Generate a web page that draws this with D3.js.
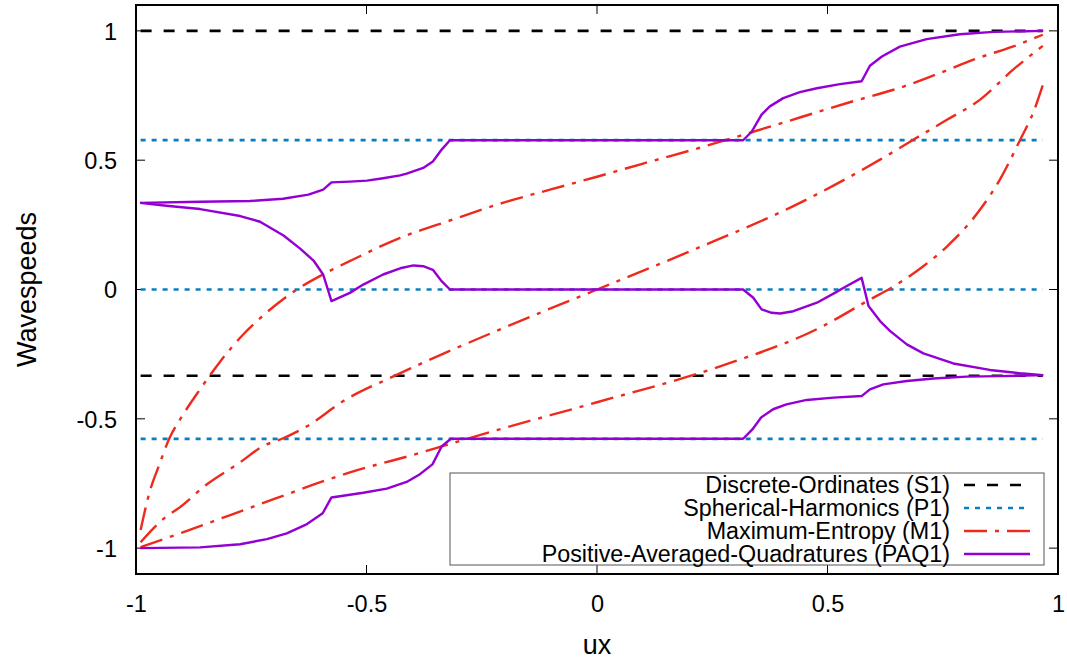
<!DOCTYPE html>
<html>
<head>
<meta charset="utf-8">
<script src="https://cdn.jsdelivr.net/npm/d3@7/dist/d3.min.js"></script>
<style>
  html, body { margin: 0; padding: 0; background: #fff; }
  svg { display: block; }
  text { font-family: "Liberation Sans", Arial, sans-serif; fill: #000; }
</style>
</head>
<body>
<svg id="chart" width="1067" height="661"></svg>
<script>
// ---- data ----------------------------------------------------------
const xTicks = [-1, -0.5, 0, 0.5, 1];
const yTicks = [-1, -0.5, 0, 0.5, 1];
const xTickLabels = ["-1", "-0.5", "0", "0.5", "1"];
const yTickLabels = ["-1", "-0.5", "0", "0.5", "1"];
const uxRange = [-0.99, 0.967];

// Discrete-Ordinates (S1) wavespeeds (constant)
const s1Speeds = [1, -0.3333];
// Spherical-Harmonics (P1) wavespeeds (constant)
const p1Speeds = [0.5774, 0, -0.5774];

// Maximum-Entropy (M1): three wavespeed branches, [ux, speed]
const m1Upper = [
  [-0.99, -0.93], [-0.97, -0.78], [-0.95, -0.68], [-0.928, -0.577], [-0.90, -0.49],
  [-0.861, -0.386], [-0.818, -0.28], [-0.768, -0.175], [-0.716, -0.088], [-0.651, 0],
  [-0.586, 0.066], [-0.529, 0.116], [-0.427, 0.2], [-0.325, 0.263], [-0.21, 0.332],
  [-0.1, 0.387], [0, 0.436], [0.1, 0.487], [0.223, 0.548], [0.332, 0.606],
  [0.44, 0.665], [0.55, 0.725], [0.657, 0.78], [0.722, 0.822], [0.83, 0.897],
  [0.90, 0.938], [0.967, 0.985]
];
const m1Middle = [
  [-0.99, -0.977], [-0.933, -0.876], [-0.911, -0.85], [-0.846, -0.753], [-0.774, -0.668],
  [-0.725, -0.606], [-0.683, -0.577], [-0.629, -0.529], [-0.551, -0.432], [-0.438, -0.333],
  [-0.21, -0.154], [0, 0], [0.21, 0.154], [0.438, 0.333], [0.614, 0.502],
  [0.686, 0.579], [0.759, 0.656], [0.831, 0.734], [0.902, 0.849], [0.967, 0.942]
];
const m1Lower = [
  [-0.99, -0.996], [-0.9, -0.94], [-0.8, -0.875], [-0.7, -0.81], [-0.6, -0.745],
  [-0.536, -0.707], [-0.4, -0.64], [-0.308, -0.591], [-0.2, -0.535], [0, -0.436],
  [0.267, -0.297], [0.484, -0.147], [0.592, -0.039], [0.636, 0.004], [0.707, 0.089],
  [0.759, 0.166], [0.831, 0.309], [0.874, 0.425], [0.918, 0.579], [0.946, 0.683],
  [0.967, 0.79]
];

// Positive-Averaged-Quadratures (PAQ1): three wavespeed branches, [ux, speed]
const paqUpper = [
  [-0.991, 0.335], [-0.861, 0.339], [-0.753, 0.342], [-0.681, 0.351], [-0.626, 0.367],
  [-0.594, 0.386], [-0.576, 0.414], [-0.536, 0.417], [-0.499, 0.421], [-0.464, 0.43],
  [-0.427, 0.441], [-0.413, 0.448], [-0.377, 0.47], [-0.356, 0.495], [-0.337, 0.541],
  [-0.319, 0.577], [0.317, 0.577], [0.336, 0.611], [0.357, 0.676], [0.375, 0.708],
  [0.404, 0.74], [0.44, 0.763], [0.477, 0.778], [0.527, 0.794], [0.574, 0.805],
  [0.592, 0.865], [0.618, 0.901], [0.657, 0.939], [0.715, 0.968], [0.787, 0.987],
  [0.86, 0.996], [0.968, 1.0]
];
const paqMiddle = [
  [-0.991, 0.335], [-0.934, 0.324], [-0.861, 0.311], [-0.774, 0.284], [-0.731, 0.262],
  [-0.680, 0.209], [-0.644, 0.158], [-0.615, 0.112], [-0.594, 0.058], [-0.576, -0.045],
  [-0.536, -0.013], [-0.507, 0.019], [-0.464, 0.058], [-0.427, 0.082], [-0.398, 0.093],
  [-0.377, 0.09], [-0.356, 0.076], [-0.337, 0.032], [-0.319, 0], [0.317, 0],
  [0.339, -0.032], [0.357, -0.077], [0.379, -0.09], [0.397, -0.093], [0.426, -0.084],
  [0.477, -0.051], [0.516, -0.013], [0.534, 0.006], [0.574, 0.045], [0.589, -0.064],
  [0.614, -0.122], [0.636, -0.161], [0.672, -0.212], [0.708, -0.247], [0.773, -0.286],
  [0.852, -0.311], [0.918, -0.324], [0.968, -0.331]
];
const paqLower = [
  [-0.991, -1.0], [-0.861, -0.997], [-0.774, -0.985], [-0.716, -0.965], [-0.673, -0.943],
  [-0.629, -0.907], [-0.595, -0.865], [-0.576, -0.804], [-0.507, -0.786], [-0.456, -0.77],
  [-0.413, -0.744], [-0.384, -0.714], [-0.357, -0.676], [-0.337, -0.607], [-0.317, -0.577],
  [0.317, -0.577], [0.337, -0.541], [0.356, -0.495], [0.382, -0.463], [0.411, -0.444],
  [0.455, -0.427], [0.513, -0.418], [0.574, -0.412], [0.592, -0.386], [0.621, -0.367],
  [0.672, -0.354], [0.73, -0.344], [0.802, -0.337], [0.874, -0.335], [0.968, -0.331]
];

const legendLabels = [
  "Discrete-Ordinates (S1)",
  "Spherical-Harmonics (P1)",
  "Maximum-Entropy (M1)",
  "Positive-Averaged-Quadratures (PAQ1)"
];

// ---- styles --------------------------------------------------------
const styles = {
  s1:  { color: "#000000", dash: "11,12",       width: 2.6 },
  p1:  { color: "#0a7fc0", dash: "5,6",         width: 2.6 },
  m1:  { color: "#ee2a1c", dash: "23,8,4,8",    width: 2.4 },
  paq: { color: "#9400d3", dash: null,          width: 2.4 }
};

// ---- layout --------------------------------------------------------
const svg = d3.select("#chart");
const plot = { left: 136, right: 1058, top: 5, bottom: 574 };

const x = d3.scaleLinear().domain([-1, 1]).range([plot.left, plot.right]);
const y = d3.scaleLinear().domain([-1.1, 1.1]).range([plot.bottom, plot.top]);

svg.append("defs").append("clipPath").attr("id", "plot-clip")
  .append("rect")
  .attr("x", plot.left).attr("y", plot.top)
  .attr("width", plot.right - plot.left).attr("height", plot.bottom - plot.top);

const tickFont = 23.5;
const legendFont = 23.3;
const titleFont = 27;
const tickLen = 9;

// axes with inward ticks, mirrored on top and right
const axBottom = d3.axisBottom(x).tickValues(xTicks).tickSize(0).tickFormat((d, i) => xTickLabels[i]);
const axLeft = d3.axisLeft(y).tickValues(yTicks).tickSize(0).tickFormat((d, i) => yTickLabels[i]);

const gx = svg.append("g").attr("transform", `translate(0,${plot.bottom})`).call(axBottom);
gx.select(".domain").remove();
gx.selectAll("text").attr("font-size", tickFont).attr("dy", null).attr("y", 38)
  .attr("font-family", "Liberation Sans, Arial, sans-serif");

const gy = svg.append("g").attr("transform", `translate(${plot.left},0)`).call(axLeft);
gy.select(".domain").remove();
gy.selectAll("text").attr("font-size", tickFont).attr("dy", "0.36em").attr("x", -19)
  .attr("font-family", "Liberation Sans, Arial, sans-serif");

const ticks = svg.append("g").attr("stroke", "#000").attr("stroke-width", 1);
xTicks.forEach(v => {
  ticks.append("line").attr("x1", x(v)).attr("x2", x(v)).attr("y1", plot.bottom).attr("y2", plot.bottom - tickLen);
  ticks.append("line").attr("x1", x(v)).attr("x2", x(v)).attr("y1", plot.top).attr("y2", plot.top + tickLen);
});
yTicks.forEach(v => {
  ticks.append("line").attr("x1", plot.left).attr("x2", plot.left + tickLen).attr("y1", y(v)).attr("y2", y(v));
  ticks.append("line").attr("x1", plot.right).attr("x2", plot.right - tickLen).attr("y1", y(v)).attr("y2", y(v));
});

// ---- series --------------------------------------------------------
const marks = svg.append("g").attr("clip-path", "url(#plot-clip)");

function hline(v, st) {
  marks.append("line")
    .attr("x1", x(uxRange[0])).attr("x2", x(uxRange[1]))
    .attr("y1", y(v)).attr("y2", y(v))
    .attr("stroke", st.color).attr("stroke-width", st.width)
    .attr("stroke-dasharray", st.dash);
}
s1Speeds.forEach(v => hline(v, styles.s1));
p1Speeds.forEach(v => hline(v, styles.p1));

const smooth = d3.line().x(d => x(d[0])).y(d => y(d[1])).curve(d3.curveMonotoneX);
const straight = d3.line().x(d => x(d[0])).y(d => y(d[1]));

[m1Upper, m1Middle, m1Lower].forEach(series => {
  marks.append("path").attr("d", smooth(series))
    .attr("fill", "none").attr("stroke", styles.m1.color)
    .attr("stroke-width", styles.m1.width).attr("stroke-dasharray", styles.m1.dash);
});
[paqUpper, paqMiddle, paqLower].forEach(series => {
  marks.append("path").attr("d", straight(series))
    .attr("fill", "none").attr("stroke", styles.paq.color)
    .attr("stroke-width", styles.paq.width).attr("stroke-linejoin", "round");
});

// ---- legend --------------------------------------------------------
const legend = svg.append("g");
legend.append("rect")
  .attr("x", 450).attr("y", 473).attr("width", 594).attr("height", 92)
  .attr("fill", "#fff").attr("stroke", "#555").attr("stroke-width", 1);
const legendStyles = [styles.s1, styles.p1, styles.m1, styles.paq];
legendLabels.forEach((lab, i) => {
  const cy = 485 + i * 23;
  legend.append("text").attr("x", 950).attr("y", cy).attr("dy", "0.36em")
    .attr("text-anchor", "end").attr("font-size", legendFont).text(lab);
  const st = legendStyles[i];
  legend.append("line").attr("x1", 964).attr("x2", 1030).attr("y1", cy).attr("y2", cy)
    .attr("stroke", st.color).attr("stroke-width", st.width)
    .attr("stroke-dasharray", st.dash);
});

// ---- frame and axis titles ----------------------------------------
svg.append("rect")
  .attr("x", plot.left).attr("y", plot.top)
  .attr("width", plot.right - plot.left).attr("height", plot.bottom - plot.top)
  .attr("fill", "none").attr("stroke", "#000").attr("stroke-width", 2);

svg.append("text").attr("x", (plot.left + plot.right) / 2).attr("y", 654)
  .attr("text-anchor", "middle").attr("font-size", titleFont).text("ux");
svg.append("text")
  .attr("transform", `translate(36,${(plot.top + plot.bottom) / 2}) rotate(-90)`)
  .attr("text-anchor", "middle").attr("font-size", titleFont).text("Wavespeeds");
</script>
</body>
</html>
